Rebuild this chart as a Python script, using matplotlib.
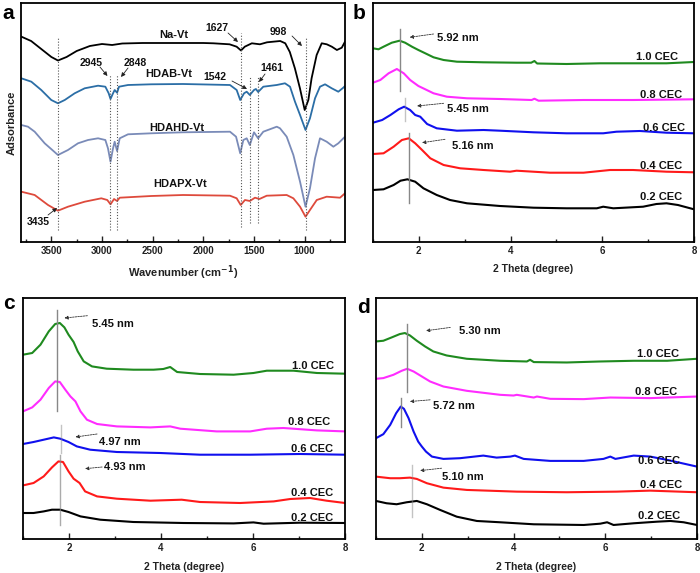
import matplotlib
matplotlib.use('Agg')
import matplotlib.pyplot as plt
from matplotlib.ticker import MultipleLocator

plt.rcParams['font.family'] = ['Liberation Sans', 'DejaVu Sans']
plt.rcParams['font.weight'] = 'bold'

# ---------------- Panel a : FTIR ----------------
wn_na = [3800, 3700, 3600, 3500, 3435, 3350, 3250, 3120, 3000, 2900, 2800, 2600, 2300, 2000, 1900, 1740, 1670,
         1627, 1590, 1520, 1440, 1370, 1240, 1190, 1145, 1095, 1045, 998, 962, 930, 880, 830, 780, 730, 680, 632, 600]
ab_na = [205.5, 201, 193, 185, 181.5, 185, 191, 196, 198, 197, 198.5, 199, 199, 199, 198.7, 197.7, 195.3,
         191.5, 195.3, 198.7, 197.7, 199.7, 201, 198.7, 190, 173.7, 153.7, 132, 142, 163.7, 187, 198.7, 197.7,
         195.3, 192, 194.3, 200.3]

wn_hdab = [3797, 3698, 3600, 3501, 3435, 3368, 3270, 3171, 3039, 2967, 2934, 2916, 2891, 2875, 2851, 2832, 2743,
           2513, 2200, 1736, 1670, 1635, 1597, 1571, 1540, 1499, 1480, 1458, 1407, 1274, 1193, 1143, 1094, 1044,
           990, 946, 896, 847, 797, 731, 666, 617, 600]
ab_hdab = [163.7, 160.3, 152, 142, 138.7, 142, 148.7, 153.7, 156.3, 155.3, 148.7, 143, 148.7, 152, 149.3, 155.3,
           157, 157.7, 158, 157, 152, 142, 148.7, 150.3, 147, 152, 153, 150, 155.3, 157, 158.7, 155.3, 140.3, 127,
           112, 123.7, 143.7, 155.3, 157.7, 153.7, 150.3, 154.3, 156]

wn_hdahd = [3797, 3731, 3665, 3566, 3435, 3336, 3237, 3138, 3039, 2967, 2941, 2916, 2891, 2875, 2851, 2825, 2743,
            2513, 2200, 1736, 1676, 1635, 1604, 1571, 1540, 1499, 1458, 1407, 1274, 1242, 1176, 1110, 1044, 990,
            946, 896, 847, 781, 715, 666, 600]
ab_hdahd = [117, 115.3, 110.3, 98.7, 87, 92, 98.7, 102, 103.7, 102, 93.7, 80.3, 93.7, 100.3, 91, 103.7, 107.7,
            108.7, 109.7, 110.3, 105.3, 88.7, 102, 103.7, 97, 109.7, 103.7, 110.3, 115.3, 113.7, 105.3, 87, 60.3,
            35.3, 53.7, 83.7, 103.7, 100.3, 95.3, 98.7, 105.3]

wn_hdapx = [3797, 3665, 3533, 3435, 3336, 3171, 3007, 2948, 2916, 2881, 2851, 2825, 2513, 2200, 1736, 1670, 1630,
            1588, 1540, 1489, 1445, 1373, 1176, 1110, 1044, 990, 946, 879, 781, 649, 600]
ab_hdapx = [50.3, 47, 37, 31.3, 35.3, 40.3, 43.7, 42, 37.7, 43, 41, 44.3, 46, 47, 46.3, 43.7, 37, 42, 41, 44.3,
            43, 46.3, 47, 43.7, 35.3, 25.3, 32, 42, 45.3, 44.3, 48.7]

ftir_names = ['Na-Vt', 'HDAB-Vt', 'HDAHD-Vt', 'HDAPX-Vt']
ftir_colors = ['#000000', '#2b6ea6', '#7a8bb8', '#de4a3c']
ftir_label_pos = [(2289, 207), (2338, 168), (2262, 113.7), (2230, 58)]

# dotted marker lines (position, y-bottom, y-top)
dot_pos = [3435, 2918, 2849, 1630, 1540, 1458, 990]
dot_ybot = [12, 12, 12, 15, 19, 19, 12]
dot_ytop = [204, 167, 167, 209, 165, 165, 205]

# peak annotations: text, text pos, arrow tail, arrow head
peak_text = ['1627', '998', '2945', '2848', '1542', '1461', '3435']
peak_text_xy = [(1867, 213.7), (1262, 210.3), (3112, 179.3), (2674, 179), (1884, 165.3), (1324, 173.7), (3629, 20.3)]
peak_tail = [(1755, 209), (1123, 206), (3020, 175), (2743, 174), (1716, 161), (1390, 168), (3533, 27)]
peak_head = [(1657, 200), (1025, 196), (2946, 166), (2812, 165), (1568, 153), (1449, 160), (3444, 34)]

# ---------------- XRD panels ----------------
cec_labels = ['1.0 CEC', '0.8 CEC', '0.6 CEC', '0.4 CEC', '0.2 CEC']
xrd_colors = ['#1f8a1f', '#ff2cff', '#1010ee', '#ff1a1a', '#000000']

# panel b
b_x = [
    [1.0, 1.12, 1.23, 1.41, 1.58, 1.70, 1.85, 1.99, 2.14, 2.32, 2.54, 2.83, 3.41, 4.13, 4.45, 4.52, 4.58, 5.22, 5.95, 6.67, 7.40, 8.0],
    [1.0, 1.16, 1.34, 1.52, 1.67, 1.81, 1.99, 2.14, 2.32, 2.61, 3.05, 3.77, 4.46, 4.52, 4.61, 5.59, 6.67, 8.0],
    [1.0, 1.20, 1.38, 1.56, 1.68, 1.81, 1.92, 2.03, 2.18, 2.39, 2.83, 3.41, 3.77, 4.50, 5.22, 6.02, 6.31, 6.82, 7.40, 8.0],
    [1.0, 1.23, 1.45, 1.63, 1.78, 1.92, 2.07, 2.25, 2.54, 2.90, 3.41, 3.99, 4.13, 4.86, 5.59, 6.17, 6.67, 7.40, 8.0],
    [1.0, 1.23, 1.45, 1.60, 1.75, 1.92, 2.10, 2.39, 2.68, 3.05, 3.77, 4.50, 5.22, 5.88, 6.02, 6.24, 6.89, 7.18, 7.40, 7.65, 8.0],
]
b_y = [
    [193.7, 192.7, 195.3, 199.3, 201.3, 199.3, 195.3, 192, 188.7, 184.7, 182, 180.3, 179.7, 179.3, 179.3, 181, 178.5, 178, 178.7, 178.7, 178.7, 180],
    [159.3, 162, 168.7, 173, 168.7, 162, 156, 152.7, 148.7, 145.3, 143.7, 143, 142, 143.3, 141.3, 142, 142, 142.7],
    [119.3, 122, 127, 132.7, 135.3, 132, 127, 125.3, 118, 113.7, 111.3, 112, 111.3, 109.7, 108.7, 108.7, 110.3, 111, 109.3, 108.7],
    [88, 88.7, 95.3, 102, 103.7, 98.7, 92, 83.7, 77, 73.7, 72, 70.3, 71.3, 69.3, 69.3, 72, 72, 70.3, 69.7],
    [52, 52.7, 57, 61.3, 62.7, 60.3, 53.7, 47, 42, 38.7, 36, 34.3, 33.7, 33.7, 35.3, 33.7, 35.3, 38, 38.7, 37, 32.7],
]
b_label_pos = [(7.65, 185.3), (7.75, 147), (7.80, 113.7), (7.75, 76.3), (7.75, 45.3)]
b_vlines = [(1.58, 151, 213), (1.70, 121, 144), (1.78, 39, 109)]
b_vl_alpha = [1.0, 0.5, 1.0]
b_ann_text = ['5.92 nm', '5.45 nm', '5.16 nm']
b_ann_xy = [(2.40, 203.7), (2.61, 133), (2.72, 96.3)]
b_ann_tail = [(2.32, 208), (2.54, 138.7), (2.57, 102.7)]
b_ann_head = [(1.80, 204.7), (1.96, 136), (2.07, 99.3)]

# panel c
c_x = [
    [1.0, 1.20, 1.38, 1.56, 1.70, 1.80, 1.90, 1.99, 2.10, 2.19, 2.32, 2.50, 2.82, 3.40, 3.84, 4.05, 4.20, 4.35, 4.85, 5.58, 6.01, 6.30, 6.88, 7.39, 8.0],
    [1.0, 1.20, 1.38, 1.56, 1.70, 1.80, 1.92, 2.03, 2.14, 2.25, 2.39, 2.61, 3.04, 3.77, 4.20, 4.42, 5.21, 5.94, 6.30, 6.66, 7.39, 8.0],
    [1.0, 1.23, 1.45, 1.67, 1.81, 1.99, 2.17, 2.46, 3.04, 3.98, 4.85, 5.94, 7.02, 8.0],
    [1.0, 1.23, 1.45, 1.63, 1.77, 1.87, 1.99, 2.10, 2.23, 2.35, 2.61, 3.04, 3.77, 4.45, 4.85, 5.72, 6.45, 6.81, 7.24, 7.60, 8.0],
    [1.0, 1.23, 1.45, 1.63, 1.81, 1.99, 2.25, 2.68, 3.40, 4.49, 5.58, 6.01, 6.23, 7.02, 8.0],
]
c_y = [
    [184.3, 186, 194.3, 207.6, 215, 216, 211.6, 204.3, 197, 187.6, 177.6, 172.6, 170.3, 169.3, 169.3, 170, 172, 167, 165, 164.3, 166, 168.3, 168.3, 166, 165.3],
    [127.6, 131.6, 139.3, 151, 157.6, 157, 149.3, 142.6, 137.6, 127.6, 119.3, 115, 112.6, 111.6, 112.6, 110.3, 107.6, 107.6, 110.3, 111, 108.6, 107.6],
    [95, 97, 99.3, 101.6, 100.3, 97, 92.6, 89.3, 87, 86, 84.3, 84.3, 85, 84.3],
    [53.6, 56, 62.6, 71.6, 77.6, 77, 67.6, 60.3, 56, 47.6, 42.6, 40.3, 38.3, 39.3, 37, 36, 37.6, 40, 41, 38.3, 36],
    [26, 26, 27.6, 29.3, 29.3, 27, 22.6, 19.3, 17, 16, 15.6, 16.6, 15.3, 16.3, 16],
]
c_label_pos = [(7.75, 173.3), (7.67, 116.6), (7.74, 90), (7.74, 46), (7.74, 21)]
c_vlines = [(1.74, 128.3, 229.3), (1.83, 86, 114.3), (1.80, 13.6, 84.3)]
c_vl_alpha = [1.0, 0.5, 0.7]
c_ann_text = ['5.45 nm', '4.97 nm', '4.93 nm']
c_ann_xy = [(2.50, 215), (2.66, 96.6), (2.77, 71.6)]
c_ann_tail = [(2.40, 223.3), (2.61, 105), (2.72, 72)]
c_ann_head = [(1.90, 221), (2.14, 102), (2.35, 70.3)]

# panel d
d_x = [
    [1.0, 1.16, 1.34, 1.52, 1.63, 1.74, 1.89, 2.07, 2.25, 2.54, 2.98, 3.71, 4.29, 4.36, 4.44, 5.16, 5.89, 6.62, 7.35, 8.0],
    [1.0, 1.16, 1.38, 1.56, 1.68, 1.82, 2.00, 2.18, 2.47, 2.98, 3.71, 4.00, 4.07, 4.44, 4.51, 4.80, 5.53, 6.11, 6.98, 8.0],
    [1.0, 1.16, 1.31, 1.44, 1.54, 1.61, 1.71, 1.82, 1.92, 2.00, 2.09, 2.22, 2.47, 2.83, 3.34, 3.63, 3.93, 4.03, 4.22, 4.80, 5.53, 5.96, 6.11, 6.22, 6.62, 6.98, 7.35, 8.0],
    [1.0, 1.31, 1.52, 1.74, 1.89, 2.11, 2.47, 2.98, 4.07, 5.16, 6.25, 6.98, 8.0],
    [1.0, 1.23, 1.45, 1.67, 1.89, 2.11, 2.40, 2.76, 3.20, 3.71, 4.44, 5.53, 5.89, 6.04, 6.18, 6.62, 7.13, 7.42, 7.71, 8.0],
]
d_y = [
    [197.3, 198, 201.3, 204.7, 205.7, 203.3, 198, 192.3, 187.3, 183.3, 180, 178, 177.3, 179, 176.7, 176.3, 177.3, 178, 178, 180],
    [160, 160.7, 164, 168, 170, 167.3, 162.3, 157.3, 152.3, 148, 144, 143.3, 144, 141.3, 142.3, 140, 139.7, 141.3, 140.7, 142.3],
    [100.7, 104.7, 114, 125.7, 132.3, 130, 120.7, 107.3, 97.3, 92.3, 87.3, 82.3, 80, 80.7, 83.3, 81.3, 82.3, 83.3, 80, 78, 78, 80, 82.3, 80, 83.3, 82.3, 79, 72.3],
    [62.3, 60.7, 60.7, 61.3, 60, 55.7, 51.3, 49, 47.3, 46.7, 47.3, 48.3, 46.7],
    [38, 35.7, 34.7, 36.7, 38, 34.7, 29, 22.3, 18, 16.7, 14.7, 14, 15.3, 16.7, 14, 15.7, 17.3, 18, 16.7, 14],
]
d_label_pos = [(7.60, 185), (7.57, 147.3), (7.64, 78), (7.67, 54), (7.64, 23.3)]
d_vlines = [(1.67, 146.7, 214.7), (1.55, 112.3, 141.3), (1.78, 22.3, 74)]
d_vl_alpha = [1.0, 1.0, 0.5]
d_ann_text = ['5.30 nm', '5.72 nm', '5.10 nm']
d_ann_xy = [(2.82, 208), (2.24, 133.3), (2.43, 62.3)]
d_ann_tail = [(2.62, 211.3), (2.18, 139), (2.43, 70.7)]
d_ann_head = [(2.09, 208), (1.74, 137.3), (1.96, 68.3)]

# ---------------- figure ----------------
W, H = 700, 573
fig = plt.figure(figsize=(7.0, 5.73), dpi=100)


def box(l, t, r, b):
    return [l / W, 1 - b / H, (r - l) / W, (b - t) / H]


ax_a = fig.add_axes(box(21, 3, 345, 242))
ax_b = fig.add_axes(box(373, 3, 694, 242))
ax_c = fig.add_axes(box(23, 298, 345, 539))
ax_d = fig.add_axes(box(376, 298, 697, 539))


def style(ax):
    for s in ax.spines.values():
        s.set_linewidth(1.3)
    ax.tick_params(which='both', direction='in', left=False, right=False, top=False,
                   labelleft=False, labelsize=7, colors='#222222', pad=3)
    ax.tick_params(which='major', length=4, width=1.0)
    ax.tick_params(which='minor', length=2.5, width=1.0)
    for lab in ax.get_xticklabels():
        lab.set_fontweight('bold')


# panel a
ax = ax_a
for x, y, c in zip([wn_na, wn_hdab, wn_hdahd, wn_hdapx], [ab_na, ab_hdab, ab_hdahd, ab_hdapx], ftir_colors):
    ax.plot(x, y, color=c, lw=1.3)
for p, y0, y1 in zip(dot_pos, dot_ybot, dot_ytop):
    ax.plot([p, p], [y0, y1], color='#555555', lw=0.8, ls=(0, (1, 1.6)))
for n, (tx, ty) in zip(ftir_names, ftir_label_pos):
    ax.text(tx, ty, n, ha='center', va='center', fontsize=8, fontweight='bold', color='#111111')
for t, txy, tail, head in zip(peak_text, peak_text_xy, peak_tail, peak_head):
    ax.text(txy[0], txy[1], t, ha='center', va='center', fontsize=7.5, fontweight='bold', color='#111111')
    ax.annotate('', xy=head, xytext=tail,
                arrowprops=dict(arrowstyle='-|>', lw=0.6, color='#222222', mutation_scale=6,
                                shrinkA=0, shrinkB=0))
ax.set_xlim(3800, 600)
ax.set_ylim(0, 239)
ax.xaxis.set_major_locator(MultipleLocator(500))
ax.xaxis.set_minor_locator(MultipleLocator(250))
style(ax)
ax.set_xlabel('Wavenumber (cm$^{\\mathbf{-1}}$)', fontsize=8, fontweight='bold', labelpad=5, color='#222222')
ax.set_ylabel('Adsorbance', fontsize=8, fontweight='bold', labelpad=3, color='#222222')


def xrd(ax, xs, ys, lpos, vlines, valpha, atext, axy, atail, ahead, ytop):
    for x, y, c in zip(xs, ys, xrd_colors):
        ax.plot(x, y, color=c, lw=1.5)
    for (p, y0, y1), al in zip(vlines, valpha):
        ax.plot([p, p], [y0, y1], color='#888888', lw=1.0, alpha=al)
    for lab, (tx, ty) in zip(cec_labels, lpos):
        ax.text(tx, ty, lab, ha='right', va='center', fontsize=8, fontweight='bold', color='#111111')
    for t, txy, tail, head in zip(atext, axy, atail, ahead):
        ax.text(txy[0], txy[1], t, ha='left', va='center', fontsize=8, fontweight='bold', color='#111111')
        ax.annotate('', xy=head, xytext=tail,
                    arrowprops=dict(arrowstyle='-|>', lw=0.6, ls=(0, (2, 1.2)), color='#333333',
                                    mutation_scale=5, shrinkA=0, shrinkB=0))
    ax.set_xlim(1, 8)
    ax.set_ylim(0, ytop)
    ax.xaxis.set_major_locator(MultipleLocator(2))
    ax.xaxis.set_minor_locator(MultipleLocator(1))
    style(ax)
    ax.set_xlabel('2 Theta (degree)', fontsize=7.5, fontweight='bold', labelpad=6, color='#222222')


xrd(ax_b, b_x, b_y, b_label_pos, b_vlines, b_vl_alpha, b_ann_text, b_ann_xy, b_ann_tail, b_ann_head, 239)
xrd(ax_c, c_x, c_y, c_label_pos, c_vlines, c_vl_alpha, c_ann_text, c_ann_xy, c_ann_tail, c_ann_head, 241)
xrd(ax_d, d_x, d_y, d_label_pos, d_vlines, d_vl_alpha, d_ann_text, d_ann_xy, d_ann_tail, d_ann_head, 240.7)

# panel letters
for letter, (px, py) in zip(['a', 'b', 'c', 'd'], [(2, 19), (353, 19), (3, 309), (357, 313)]):
    fig.text(px / W, 1 - py / H, letter, fontsize=15, fontweight='bold', ha='left', va='baseline')

fig.savefig('out.png', dpi=100)
